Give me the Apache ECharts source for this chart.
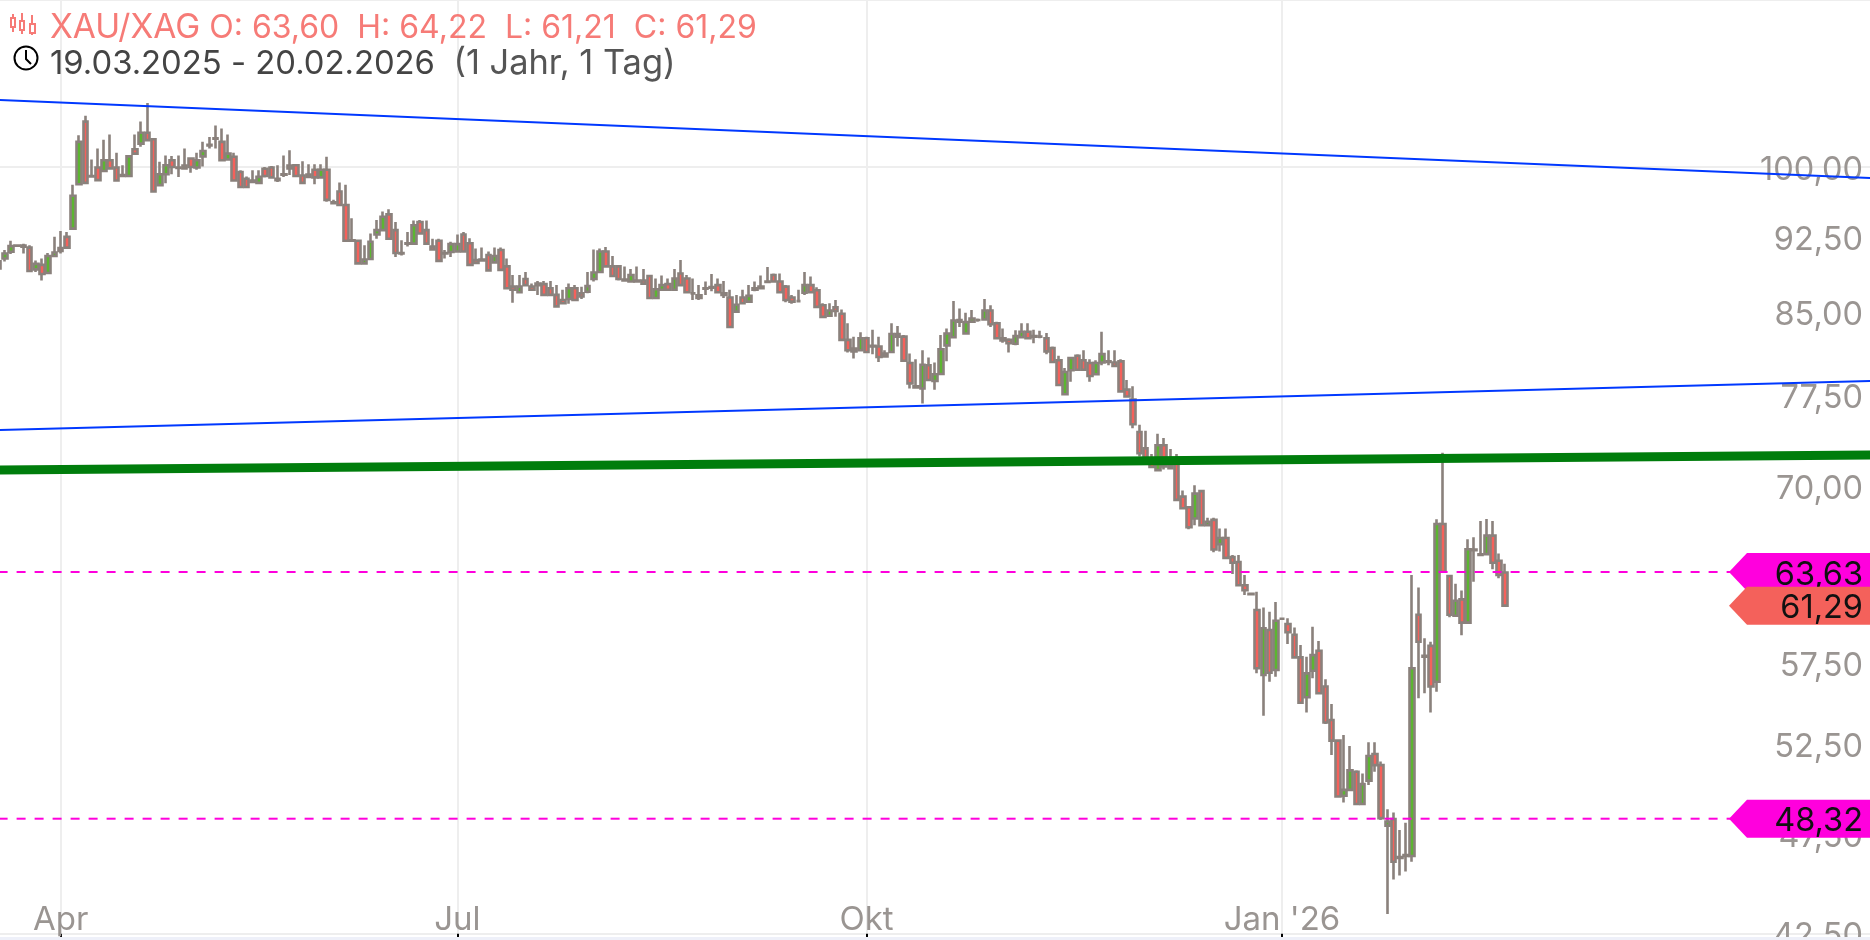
<!DOCTYPE html>
<html><head><meta charset="utf-8">
<style>html,body{margin:0;padding:0;background:#eef0f9;overflow:hidden}#c{width:1870px;height:937px;background:#fff}</style>
<script src="https://cdn.jsdelivr.net/npm/echarts@6/dist/echarts.min.js"></script>
</head><body><div id="c"></div>
<script>
const opens=[89.3,90.3,90.97,91.6,91.6,91.4,89.2,89.65,88.85,90.55,
91.35,92.5,93.35,98.1,105.2,98.95,99.95,99.55,100.75,99.95,
99.1,99,102,102.65,103.9,103.15,98,99.2,100.75,99.95,
99.85,100.95,99.95,101.2,102.5,103.25,102.85,100.85,101.15,99.45,
98.7,98.5,98.25,99.8,99.95,98.7,99.15,99.85,100.2,99.05,
99.15,99.7,98.85,99.7,96.15,97.3,95.85,92.15,92.1,89.8,
90.25,92.75,93.2,94.85,93.2,90.85,91.85,91.8,94.05,93.2,
91.5,92.1,90.85,90.95,91,92.75,91.85,90.15,90.2,90.65,
89.9,91.15,89.5,87.5,86.95,88.25,87.5,87.8,87.75,87.35,
86.7,86.2,86.3,87.35,86.85,87,88.25,88.95,91,89.5,
89.5,88.2,88,88.1,88.1,88.55,86.4,87.2,87.75,87.2,
88.8,88.3,86.85,86.65,87.35,87.4,87.65,86.85,86.45,85.1,
86.45,86.05,87.2,87.35,87.95,88.65,88,87.5,86.45,86.1,
86.9,87.65,87.15,85.7,84.7,85.5,84.9,82.45,81.4,81.5,
82.6,81.85,81.85,80.95,81.35,83,82.75,80.35,78.3,78.1,
80.15,78.75,79.37,81.95,82.7,84.15,83.05,84.15,84.3,84.35,
85.2,84,82.6,82.45,82.1,82.7,83.2,82.8,82.75,82.6,
81.7,80.6,77.6,79.7,81,80.6,80.35,79.35,80.4,80.5,
80.4,80.5,78,77.15,74.4,73.05,71.9,71.3,73.3,71.65,
71.85,69.22,68.4,67.55,69.65,67.05,67.45,65.65,66.1,64.7,
64.35,62.7,62.1,60.99,56.73,59.65,57.04,60.4,60.05,59.33,
57.85,55.33,57,58.28,56,53.95,52.72,49.57,49.9,50.92,
49.12,50.42,51.94,51.3,47.95,48.3,46.3,46.4,46.35,60.67,
57.95,58.6,56.3,67.14,63.35,60.6,61.72,60.14,65.25,64.9,
64.92,66.27,64.44,63.6];
const closes=[90,90.8,91.55,91.62,91.5,89.05,89.75,88.75,90.55,90.9,
91.05,91.4,96.85,102.85,98.25,99,98.55,100.75,99.85,98.5,
99,101.2,101.5,103.9,103.05,97.3,99.2,100.2,100,99.9,
100.15,100,100.75,101.8,102.45,103.2,100.75,101.5,98.5,97.8,
97.8,98.35,98.9,99,98.85,98.55,99.2,100.15,99,98.25,
98.9,98.85,99.7,96.4,96.05,95.85,92.1,92.1,89.8,90.2,
92,93.2,94.6,92.3,90.85,90.8,91.8,93.7,92.85,91.8,
91.2,90.05,90.8,91.75,91.75,91,89.65,89.85,90.1,89.1,
90.55,89.15,87.35,87.2,87.5,87.65,87.2,87.65,86.7,86.7,
85.6,85.9,87.35,86.2,86.55,87.55,88.9,91,89.5,88.55,
88.25,88.1,88.65,88,87.8,86.4,87.25,87.65,87.2,88.3,
87.65,86.95,86.85,86.4,87.3,87.45,86.95,86.7,83.65,85.75,
85.9,86.6,87.35,87.5,88,88,86.95,86.2,86.05,86.1,
87.65,86.95,85.55,84.6,85.2,85.15,82.45,81.5,81.65,82.6,
81.35,81.9,80.9,81.2,83,82.75,80.55,78.55,78.2,80.2,
78.85,79.35,81.6,83.05,84.25,84.3,84.1,84.45,84.3,85.2,
83.9,82.6,82.4,82.15,82.8,83.2,82.6,82.75,82.75,81.4,
80.45,78.4,79.55,80.8,79.75,79.75,79.2,80.35,81.15,80.45,
80.1,77.85,77.4,75.05,72.65,72.25,71.55,73.3,71.6,71.45,
68.97,68.33,66.9,69.45,67.05,67.3,65.25,66.1,64.65,64.3,
62.7,62.35,62.08,57.15,59.76,56.87,60.27,60.4,59.5,57.85,
55,56.83,58,55.58,53.8,52.72,49.53,49.9,51,49.12,
50.22,51.82,51.3,48.35,48.17,46.05,46.25,46.35,57.15,58.87,
57.9,56,67.14,63.65,60.67,61.63,60.14,65.27,65.2,64.85,
66.27,64.3,63.42,61.29];
const lows=[88.8,90,90.75,91.5,90.8,88.95,88.95,88.1,88.85,90.55,
90.8,91.4,93.2,98,98.2,98.95,98.5,99.55,99.75,98.5,
98.95,98.95,101.5,102.3,103.05,97.25,98,98.2,99.2,98.9,
99.8,99.35,99.7,100.05,102.1,102.1,100.75,100.75,98.5,97.75,
97.75,98.2,98.2,98.85,98.85,98.35,98.9,99.1,99,98.2,
98.85,98.1,98.85,96.2,96,95.85,92.1,92.1,89.7,89.7,
90.2,92.3,93.2,92.3,90.45,90.6,91.5,91.8,92.75,91.8,
91.15,90.05,90.3,90.45,90.9,90.9,89.65,89.8,90,89,
89.85,89.1,87.25,85.95,86.85,87.55,87.1,86.7,86.7,86.7,
85.55,85.85,85.85,86.2,86.3,86.85,88,88.85,89.5,88.45,
88.1,88,88,87.9,87.75,86.3,86.4,87.1,87.1,87.1,
87.55,86.85,86.2,86.2,86.7,87.05,86.85,86.4,83.6,85,
85.85,85.95,87.05,87.35,87.9,87.9,86.9,86,85.85,86.05,
86.7,86.85,85.55,84.5,84.6,84.6,82.45,81.3,80.75,81.45,
81.35,81.15,80.45,80.85,81.3,81.85,80.45,78.1,78.1,76.8,
78.75,78,79.37,80.5,82.6,83.65,83,84.15,84.15,84.3,
83.65,82.5,82.2,81.3,81.95,82.6,82.5,82.15,82.6,81.15,
80.4,78.3,77.55,78.7,79.7,79.7,78.7,79.25,80.15,80.15,
80,77.75,77.3,74.7,72.4,72.2,71.5,71.2,71.35,71.35,
68.97,68.25,66.75,67.05,67.05,67.05,65.05,65.1,64.55,63.5,
62.65,62.02,62.05,56.83,54.2,56.3,56.62,60.35,58.72,57.8,
54.95,54.4,56.52,55.54,53.7,51.88,49.5,49.2,49.85,49.12,
49.12,50.17,50.92,48.25,43.45,45.15,45.35,45.55,46.05,55.28,
55.58,54.4,55.68,63.6,60.5,60.55,59.3,60.1,62.95,64.8,
64.9,63.83,63.2,61.21];
const highs=[90.8,91.15,92.1,91.7,91.8,91.65,90.1,90.3,90.85,92.5,
93.1,93,98.05,103.6,105.9,100.85,102.1,103.1,103.7,101.6,
100.2,101.3,103.7,105.2,107.4,103.25,100.6,101.3,101.25,101.3,
102.1,101,101.6,102.85,103.4,104.75,104.4,103.7,101.6,99.65,
98.95,99.65,99.65,100,100.1,100.2,101.3,101.9,100.3,100.65,
100.3,100.3,100.3,101.15,96.4,98.3,98.05,94.45,92.1,91.65,
92.85,94.25,95.15,95.4,94.05,92.15,93,94.2,94.25,94.2,
92.3,92.3,91.15,92,92.75,93,92.35,91.3,91.4,91,
91.4,91.4,90.3,88.65,88.65,88.95,87.8,88.05,88.05,88.05,
87.65,87.2,87.8,87.65,87.5,88.95,91.2,91.3,91.45,90.55,
89.5,89.5,89.25,89.5,89.25,88.6,88.3,88.6,88.3,89.25,
90.15,88.65,88.3,87.65,88,88.75,88.3,88.05,87.2,86.7,
87.2,87.65,88,88.6,89.45,88.8,88.8,87.65,86.7,87.2,
88.95,88.5,87.45,85.9,85.9,86.2,85.3,84,82.75,83.15,
82.75,83.4,82.75,81.5,84,83.75,82.9,81.2,80.7,81.5,
80.85,80.4,82.9,83.5,86.1,85.4,85,85.25,84.45,86.3,
85.7,84.15,83.5,82.6,83.35,84,84,83.4,83.3,83.1,
81.85,81,79.9,80.85,81.15,81.5,80.7,80.6,83.2,81.5,
81.5,80.7,78.85,78.3,75,74.5,72.6,74.25,73.9,73,
72.6,69.7,68.45,70.1,69.7,67.6,67.6,66.8,66.8,64.85,
64.85,63.42,62.14,62.25,61.17,60.88,61.54,60.45,60.43,59.82,
58.65,57.9,59.87,58.92,56.45,54.92,52.76,53.05,52.4,51,
50.82,52.62,52.62,51.5,48.83,48.65,47.72,48.1,63.42,62.55,
59.1,58.87,67.49,72.69,63.42,62.8,62.33,66,66.15,67.36,
67.51,67.36,64.97,64.22];
const yTicks=[42.5,47.5,52.5,57.5,62.5,70,77.5,85,92.5,100];
const xTickLabels={'2025-04-01':'Apr','2025-07-01':'Jul','2025-10-01':'Okt','2026-01-01':"Jan '26"};
const level1=63.63, level2=48.32, lastClose=61.29;
const upperTrend=[107.76,98.78], lowerTrend=[74.56,78.75], greenTrend=[71.31,72.51];
const closedDays=['2025-04-18'], extraSessions=['2025-12-28'];

const dates=[];
for(let t=Date.UTC(2025,2,18);dates.length<303;t+=864e5){
  const d=new Date(t),s=d.toISOString().slice(0,10),w=d.getUTCDay();
  if((w!==0&&w!==6&&!closedDays.includes(s))||extraSessions.includes(s))dates.push(s);
}
const last=dates.length-1;
const candles=opens.map((o,i)=>[o,closes[i],lows[i],highs[i]]);
const grey='#8a817c',font='Inter';
const two=(a)=>[[0,a[0]],[last,a[1]]];
const tagPath='path://M0 19L18 0L141 0L141 38L18 38Z';
const tag=(v,color,z)=>({type:'scatter',z:z,clip:false,silent:true,symbol:tagPath,symbolSize:[141,38],symbolKeepAspect:false,
  symbolOffset:[-71.5,0],itemStyle:{color:color,opacity:1},
  label:{show:true,position:'insideRight',distance:7,offset:[0,3],color:'#111',fontFamily:font,fontSize:32.5,formatter:()=>v.toFixed(2).replace('.',',')},
  data:[[last,v]]});
const isTick=(i)=>xTickLabels[dates[i]]!==undefined;
const chart=echarts.init(document.getElementById('c'),null,{renderer:'canvas'});
chart.setOption({
  animation:false,backgroundColor:'#fff',
  title:[{text:'{a|XAU/XAG} O: 63,60  H: 64,22  L: 61,21  C: 61,29',left:50,top:11,padding:0,textStyle:{color:'#f67b77',fontFamily:font,fontSize:32,fontWeight:400,rich:{a:{color:'#f67b77',fontFamily:font,fontSize:33.5,fontWeight:400}}}},
         {text:'19.03.2025 - 20.02.2026  {b|(1 Jahr, 1 Tag)}',left:50,top:47,padding:0,textStyle:{color:'#444',fontFamily:font,fontSize:32.8,fontWeight:400,rich:{b:{color:'#555',fontFamily:font,fontSize:34.4,fontWeight:400}}}}],
  grid:{left:-1.4,right:-1,top:0,height:933.7,outerBoundsMode:'none',containLabel:false},
  xAxis:{type:'category',data:dates,boundaryGap:false,
    axisLine:{show:true,lineStyle:{color:'#eeeeee',width:2}},
    axisTick:{show:true,length:4,interval:(i)=>isTick(i),lineStyle:{color:'#000',width:2}},
    axisLabel:{show:true,inside:true,margin:-3,interval:(i)=>isTick(i),hideOverlap:false,formatter:(v)=>xTickLabels[v]||'',color:'#9a9592',fontFamily:font,fontSize:33,verticalAlign:'bottom'},
    splitLine:{show:true,interval:(i)=>isTick(i),lineStyle:{color:'#eeeeee',width:2}}},
  yAxis:{type:'log',position:'right',min:42.5,max:120.49,
    axisLine:{show:false},axisTick:{show:false},
    axisLabel:{inside:true,margin:8,customValues:yTicks,showMinLabel:true,showMaxLabel:true,hideOverlap:false,
      formatter:(v)=>'{l|'+Number(v).toFixed(2).replace('.',',')+'}',
      rich:{l:{padding:[6,0,0,0],color:'#9a9592',fontFamily:font,fontSize:32.5}},color:'#9a9592',fontFamily:font,fontSize:32.5},
    splitLine:{show:true,customValues:yTicks,lineStyle:{color:'#eeeeee',width:2}}},
  graphic:[
    {type:'group',silent:true,children:[
      {type:'line',shape:{x1:13,y1:14,x2:13,y2:32},style:{stroke:'#f67b77',lineWidth:2}},
      {type:'rect',shape:{x:11,y:18,width:4,height:9},style:{fill:'#fff',stroke:'#f67b77',lineWidth:2}},
      {type:'line',shape:{x1:22,y1:13,x2:22,y2:34},style:{stroke:'#f67b77',lineWidth:2}},
      {type:'rect',shape:{x:20,y:21,width:4,height:9},style:{fill:'#fff',stroke:'#f67b77',lineWidth:2}},
      {type:'line',shape:{x1:32,y1:15,x2:32,y2:35},style:{stroke:'#f67b77',lineWidth:2}},
      {type:'rect',shape:{x:30,y:24,width:5,height:9},style:{fill:'#fff',stroke:'#f67b77',lineWidth:2}},
      {type:'circle',shape:{cx:26,cy:58,r:11.5},style:{fill:'#fff',stroke:'#000',lineWidth:2}},
      {type:'polyline',shape:{points:[[26,50],[26,59],[31,64]]},style:{fill:'none',stroke:'#000',lineWidth:2}}
    ]}
  ],
  series:[
    {type:'candlestick',data:candles,barWidth:5,z:2,silent:true,
     itemStyle:{color:'#5cb531',color0:'#f4615b',borderColor:grey,borderColor0:grey,borderColorDoji:grey,borderWidth:2.6}},
    {type:'line',z:3,silent:true,symbol:'none',data:two(upperTrend),lineStyle:{color:'#0038ff',width:2}},
    {type:'line',z:3,silent:true,symbol:'none',data:two(lowerTrend),lineStyle:{color:'#0038ff',width:2}},
    {type:'line',z:3,silent:true,symbol:'none',data:two(greenTrend),lineStyle:{color:'#007d0c',width:9}},
    {type:'line',z:3,silent:true,symbol:'none',data:[[0,level1],[last,level1]],lineStyle:{color:'#ff00dd',width:2,type:[9,9]}},
    {type:'line',z:3,silent:true,symbol:'none',data:[[0,level2],[last,level2]],lineStyle:{color:'#ff00dd',width:2,type:[9,9]}},
    tag(level1,'#ff00dd',4),tag(level2,'#ff00dd',4),tag(lastClose,'#f4615b',5)
  ]
});
</script></body></html>
